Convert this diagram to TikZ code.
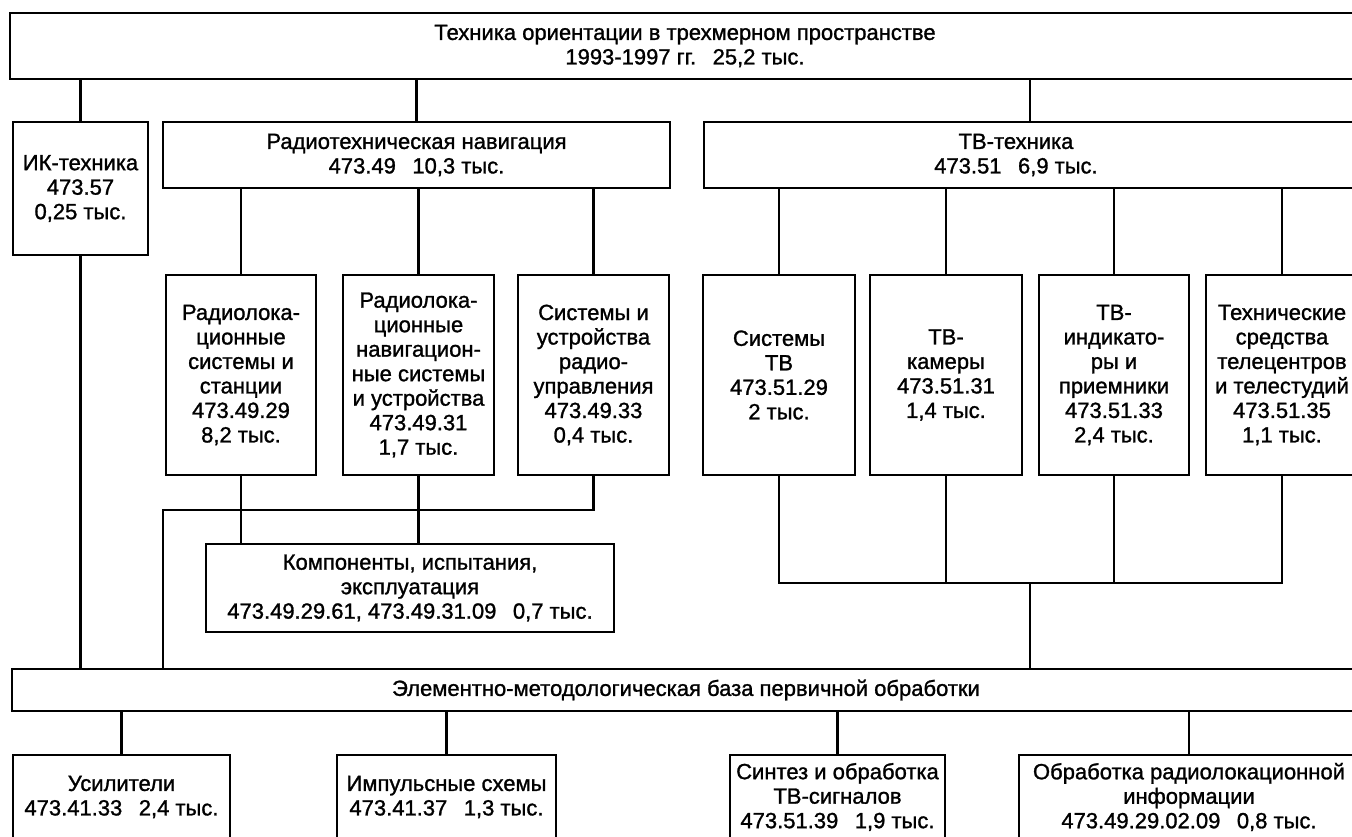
\documentclass[tikz,border=0pt]{standalone}
\usepackage{fontspec}
\setmainfont{Liberation Sans}
\newfontfamily\boxfont{Liberation Sans}[FakeBold=1.2]
\begin{document}
\begin{tikzpicture}[x=1pt,y=-1pt,line width=2.4pt,
  box/.style={draw,line width=2.4pt,inner sep=0pt,align=center,font=\boxfont\fontsize{22}{24.5}\selectfont},
  lbl/.style={inner sep=0pt,align=center,font=\boxfont\fontsize{22}{24.5}\selectfont}]
\useasboundingbox (0,0) rectangle (1352,836);
\clip (0,0) rectangle (1352,836);
\newcommand{\gap}{\hspace{0.75em}}
% level 0
\node[box,minimum width=1350,minimum height=66] (top) at (685,46)
  {Техника ориентации в трехмерном пространстве\\1993-1997 гг.\gap25,2 тыс.};
% level 1
\node[box,minimum width=135,minimum height=133] (ik) at (80.5,188.5)
  {ИК-техника\\473.57\\0,25 тыс.};
\node[box,minimum width=507,minimum height=66] (radio) at (416.5,155)
  {Радиотехническая навигация\\473.49\gap10,3 тыс.};
\node[box,minimum width=656,minimum height=66] (tv) at (1032,155) {};
\node[lbl] (tvlbl) at (1016,155) {ТВ-техника\\473.51\gap6,9 тыс.};
% level 2
\node[box,minimum width=150,minimum height=200] (b1) at (241,375)
  {Радиолока-\\ционные\\системы и\\станции\\473.49.29\\8,2 тыс.};
\node[box,minimum width=151,minimum height=200] (b2) at (418.5,375)
  {Радиолока-\\ционные\\навигацион-\\ные системы\\и устройства\\473.49.31\\1,7 тыс.};
\node[box,minimum width=151,minimum height=200] (b3) at (593.5,375)
  {Системы и\\устройства\\радио-\\управления\\473.49.33\\0,4 тыс.};
\node[box,minimum width=152,minimum height=200] (b4) at (779,375)
  {Системы\\ТВ\\473.51.29\\2 тыс.};
\node[box,minimum width=152,minimum height=200] (b5) at (946,375)
  {ТВ-\\камеры\\473.51.31\\1,4 тыс.};
\node[box,minimum width=150,minimum height=200] (b6) at (1114,375)
  {ТВ-\\индикато-\\ры и\\приемники\\473.51.33\\2,4 тыс.};
\node[box,minimum width=152,minimum height=200] (b7) at (1282,375)
  {Технические\\средства\\телецентров\\и телестудий\\473.51.35\\1,1 тыс.};
% components
\node[box,minimum width=408,minimum height=88] (comp) at (410,588)
  {Компоненты, испытания,\\эксплуатация\\473.49.29.61, 473.49.31.09\gap0,7 тыс.};
% element base
\node[box,minimum width=1348,minimum height=42] (elem) at (686,690)
  {Элементно-методологическая база первичной обработки};
% bottom
\node[box,minimum width=217,minimum height=84] (u1) at (121.5,797)
  {Усилители\\473.41.33\gap2,4 тыс.};
\node[box,minimum width=219,minimum height=84] (u2) at (446.5,797)
  {Импульсные схемы\\473.41.37\gap1,3 тыс.};
\node[box,minimum width=215,minimum height=84] (u3) at (837.5,797)
  {Синтез и обработка\\ТВ-сигналов\\473.51.39\gap1,9 тыс.};
\node[box,minimum width=340,minimum height=84] (u4) at (1189,797)
  {Обработка радиолокационной\\информации\\473.49.29.02.09\gap0,8 тыс.};
% junction coordinates
\coordinate (rj) at (163,510);
\coordinate (tj) at (1030,583);
% connectors
\draw (ik.north |- top.south) -- (ik.north);
\draw (radio.north |- top.south) -- (radio.north);
\draw (tj |- top.south) -- (tj |- tv.north);
\foreach \b in {b1,b2,b3}{\draw (\b.north |- radio.south) -- (\b.north);}
\foreach \b in {b4,b5,b6,b7}{\draw (\b.north |- tv.south) -- (\b.north);}
\draw (b1.south) -- (b1.south |- comp.north);
\draw (b2.south) -- (b2.south |- comp.north);
\draw (b3.south) |- (rj) -- (rj |- elem.north);
\draw (ik.south) -- (ik.south |- elem.north);
\draw (b4.south) |- (tj);
\draw (b7.south) |- (tj);
\draw (b5.south) -- (b5.south |- tj);
\draw (b6.south) -- (b6.south |- tj);
\draw (tj) -- (tj |- elem.north);
\foreach \b in {u1,u2,u3,u4}{\draw (elem.south -| \b.north) -- (\b.north);}
\end{tikzpicture}
\end{document}
